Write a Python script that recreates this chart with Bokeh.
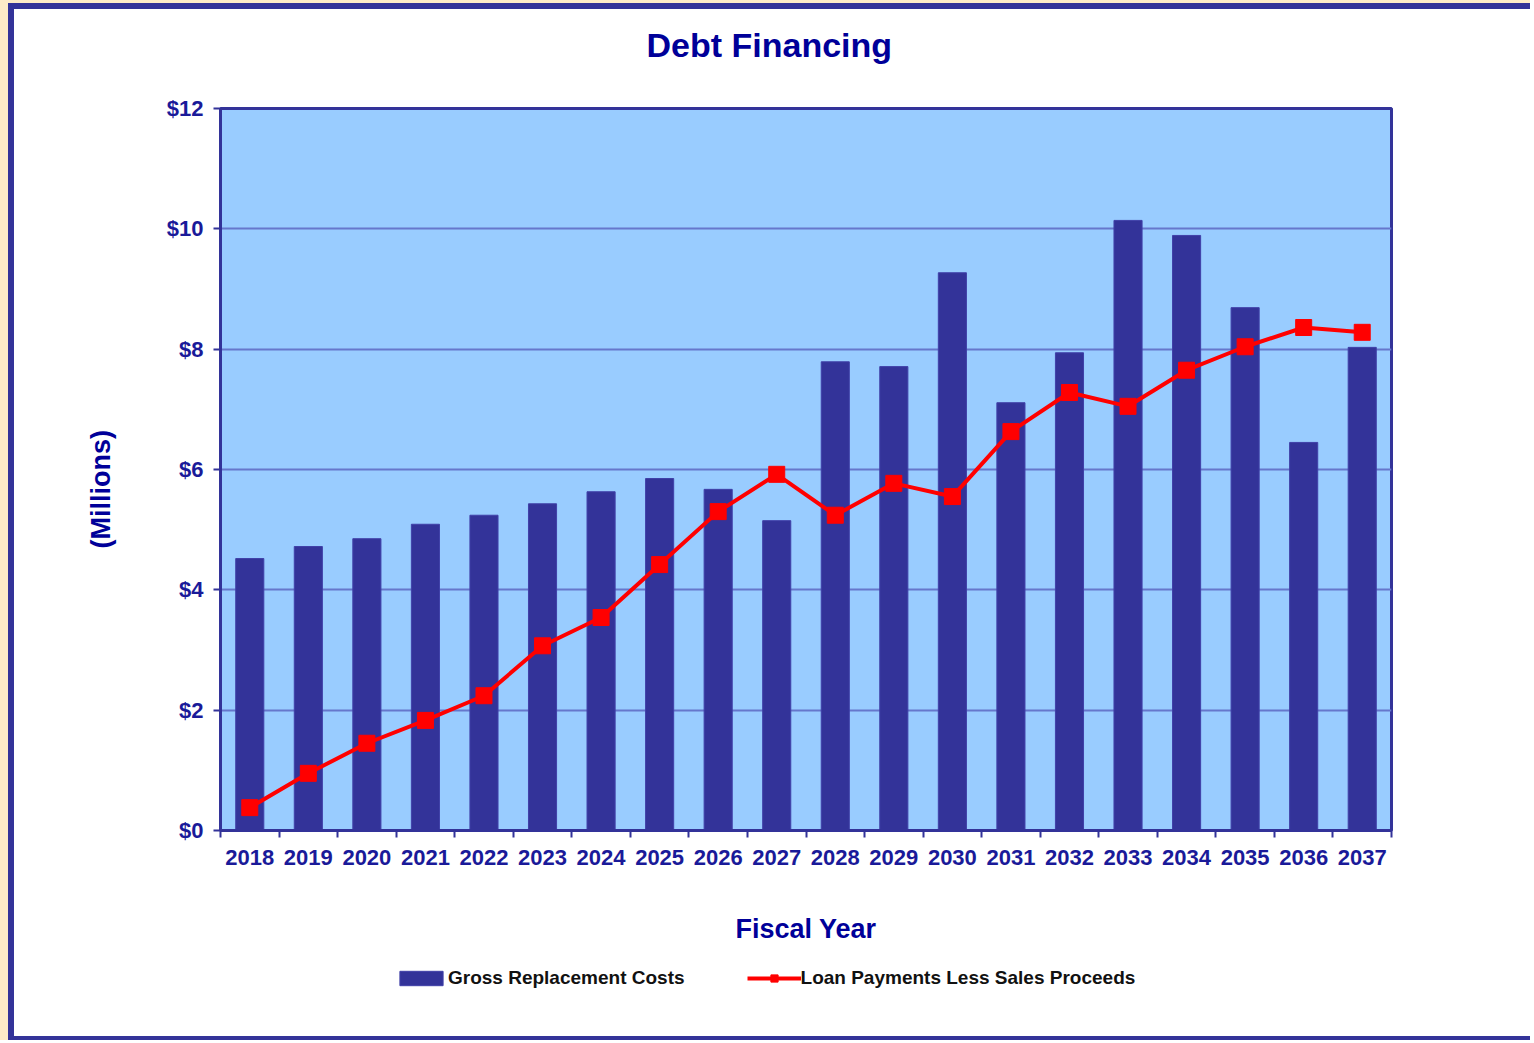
from bokeh.plotting import figure
from bokeh.layouts import column
from bokeh.models import (ColumnDataSource, FixedTicker, Legend, LegendItem,
                          NumeralTickFormatter, Range1d, Title, InlineStyleSheet)
from bokeh.embed import file_html
from bokeh.resources import INLINE

# ---- data ----
years = ["2018", "2019", "2020", "2021", "2022", "2023", "2024", "2025", "2026", "2027",
         "2028", "2029", "2030", "2031", "2032", "2033", "2034", "2035", "2036", "2037"]
gross_replacement = [4.52, 4.72, 4.85, 5.09, 5.24, 5.43, 5.63, 5.85, 5.67, 5.15,
                     7.79, 7.71, 9.27, 7.11, 7.94, 10.14, 9.89, 8.69, 6.45, 8.03]
loan_less_sales = [0.38, 0.95, 1.45, 1.83, 2.24, 3.07, 3.54, 4.42, 5.30, 5.92,
                   5.24, 5.77, 5.55, 6.63, 7.28, 7.05, 7.65, 8.04, 8.36, 8.28]
y_ticks = [0, 2, 4, 6, 8, 10, 12]

NAVY = "#333399"
TXT = "#000099"
FONT = "Liberation Sans"
W = 1530

xs = list(range(len(years)))
src = ColumnDataSource(dict(x=xs, gross=gross_replacement, loan=loan_less_sales))

p = figure(width=W, height=950, output_backend="svg", toolbar_location=None,
           x_range=Range1d(-0.5, len(years) - 0.5), y_range=Range1d(0, 12),
           min_border_left=220, min_border_right=W - 1391, min_border_top=108,
           min_border_bottom=120,
           background_fill_color="#99CCFF", border_fill_color="white",
           outline_line_color=NAVY, outline_line_width=3)

# title (spacer title keeps the real title away from the frame)
p.add_layout(Title(text=" ", text_font_size="2px", standoff=38), "above")
p.add_layout(Title(text="Debt Financing", text_font=FONT, text_font_size="34px",
                   text_font_style="bold", text_color=TXT, align="left", offset=426,
                   standoff=6), "above")

bars = p.vbar(x="x", top="gross", width=0.48, source=src,
              fill_color=NAVY, line_color="#4040a8", line_width=1)
ln = p.line(x="x", y="loan", source=src, line_color="#FF0000", line_width=4)
mk = p.scatter(x="x", y="loan", source=src, marker="square", size=16,
               fill_color="#FF0000", line_color="#FF0000")

# x axis
xa = p.xaxis[0]
xa.ticker = FixedTicker(ticks=xs, minor_ticks=[i - 0.5 for i in range(len(years) + 1)])
xa.major_label_overrides = {i: y for i, y in enumerate(years)}
xa.major_tick_line_color = None
xa.major_tick_out = 0
xa.major_tick_in = 0
xa.minor_tick_line_color = NAVY
xa.minor_tick_line_width = 2
xa.minor_tick_out = 7
xa.minor_tick_in = 0
xa.axis_line_color = NAVY
xa.axis_line_width = 3
xa.major_label_text_font = FONT
xa.major_label_text_font_size = "22px"
xa.major_label_text_font_style = "bold"
xa.major_label_text_color = "#1a1a99"
xa.major_label_standoff = 12
xa.axis_label = "Fiscal Year"
xa.axis_label_text_font = FONT
xa.axis_label_text_font_size = "27px"
xa.axis_label_text_font_style = "bold"
xa.axis_label_text_color = TXT
xa.axis_label_standoff = 46

# y axis
ya = p.yaxis[0]
ya.ticker = FixedTicker(ticks=y_ticks)
ya.formatter = NumeralTickFormatter(format="$0")
ya.minor_tick_line_color = None
ya.major_tick_line_color = NAVY
ya.major_tick_line_width = 2
ya.major_tick_out = 7
ya.major_tick_in = 0
ya.axis_line_color = NAVY
ya.axis_line_width = 3
ya.major_label_text_font = FONT
ya.major_label_text_font_size = "22px"
ya.major_label_text_font_style = "bold"
ya.major_label_text_color = "#1a1a99"
ya.major_label_standoff = 10

# y axis title, placed lower than the frame centre as in the original
p.add_layout(Title(text="(Millions)", text_font=FONT, text_font_size="27px",
                   text_font_style="bold", text_color=TXT, align="left", offset=282,
                   standoff=96), "left")

p.xgrid.visible = False
p.ygrid.grid_line_color = "#6677CC"
p.ygrid.grid_line_width = 2

# ---- legend strip (separate small figure below the chart) ----
# same series drawn again, but the y range sits above all values so only the
# legend swatches are visible here
p2 = figure(width=W, height=90, output_backend="svg", toolbar_location=None,
            x_range=Range1d(-0.5, len(years) - 0.5), y_range=Range1d(100, 101),
            x_axis_location=None, y_axis_location=None, min_border=0,
            outline_line_color=None, background_fill_color="white",
            border_fill_color="white")
p2.grid.visible = False
lg_bar = p2.vbar(x="x", top="gross", width=0.48, source=src,
                 fill_color=NAVY, line_color="#4040a8", line_width=1)
lg_line = p2.line(x="x", y="loan", source=src, line_color="#FF0000", line_width=4)
lg_mk = p2.scatter(x="x", y="loan", source=src, marker="square", size=16,
                   fill_color="#FF0000", line_color="#FF0000")

legend = Legend(items=[LegendItem(label="Gross Replacement Costs", renderers=[lg_bar]),
                       LegendItem(label="Loan Payments Less Sales Proceeds",
                                  renderers=[lg_line, lg_mk])],
                orientation="horizontal", location=(174, 51),
                glyph_width=54, glyph_height=18, label_standoff=0, spacing=62,
                padding=5, margin=0,
                label_text_font=FONT, label_text_font_size="19px",
                label_text_font_style="bold", label_text_color="#111111",
                border_line_color=None, background_fill_alpha=0)
p2.add_layout(legend, "center")

css = InlineStyleSheet(css="""
:host { position: relative; }
:host::before { content: ''; position: absolute; left: 0; top: 0; right: 0; bottom: 0;
  box-sizing: border-box; border-left: 8px solid #FDEBC8; border-top: 3px solid #FDEBC8;
  pointer-events: none; z-index: 20; }
:host::after { content: ''; position: absolute; left: 8px; top: 3px; right: 0; bottom: 0;
  box-sizing: border-box; border-left: 6px solid #333399; border-top: 6px solid #333399;
  border-bottom: 4px solid #333399; pointer-events: none; z-index: 21; }
""")
layout = column(p, p2, spacing=0, stylesheets=[css])

open("out.html", "w").write(file_html(layout, INLINE))
